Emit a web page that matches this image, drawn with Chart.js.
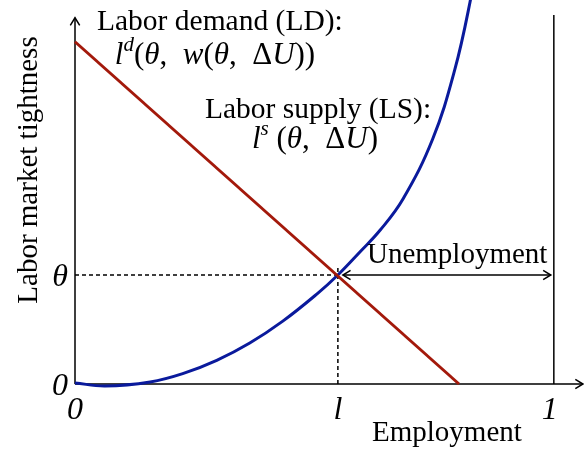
<!DOCTYPE html>
<html lang="en">
<head>
    <meta charset="UTF-8">
    <title>Labor market tightness</title>
    <script src="https://cdn.jsdelivr.net/npm/chart.js"></script>
    <style>
        html, body { margin: 0; padding: 0; background: #fff; }
        canvas { display: block; }
    </style>
</head>
<body>
    <canvas id="chart" width="584" height="452"></canvas>
    <script>
        // axis extents (data units), equilibrium point
        const xMax = 1.063;
        const yMax = 3.523;
        const lStar = 0.549;
        const theta = 1;
        const fullEmployment = 1;

        // labor demand: straight line
        const ldX = [0, 0.802];
        const ldY = [3.14, 0];

        // labor supply: convex curve
        const lsX = [0, 0.063, 0.157, 0.225, 0.296, 0.365, 0.434, 0.505, 0.549, 0.595, 0.637, 0.685, 0.747, 0.793, 0.825, 0.856];
        const lsY = [0.01, -0.018, 0.019, 0.095, 0.217, 0.376, 0.577, 0.825, 1.0, 1.211, 1.41, 1.697, 2.248, 2.881, 3.505, 4.257];

        // tick labels
        const xTicks = [[0, '0'], [lStar, 'l'], [fullEmployment, '1']];
        const yTicks = [[0, '0'], [theta, 'θ']];

        const RED = '#a3190b';
        const BLUE = '#0a1a9c';
        const SERIF = '"Liberation Serif", "DejaVu Serif", serif';

        const toPts = (xs, ys) => xs.map((x, i) => ({ x, y: ys[i] }));

        function arrowHead(ctx, x, y, angle, size) {
            ctx.beginPath();
            ctx.moveTo(x - size * Math.cos(angle - 0.55), y - size * Math.sin(angle - 0.55));
            ctx.lineTo(x, y);
            ctx.lineTo(x - size * Math.cos(angle + 0.55), y - size * Math.sin(angle + 0.55));
            ctx.stroke();
        }

        // parts: [text, italic, size, raise]
        function richText(ctx, parts, x, y, align) {
            const font = (p) => (p[1] ? 'italic ' : '') + p[2] + 'px ' + SERIF;
            let w = 0;
            parts.forEach(p => { ctx.font = font(p); w += ctx.measureText(p[0]).width; });
            let cx = align === 'center' ? x - w / 2 : x;
            ctx.textAlign = 'left';
            ctx.textBaseline = 'alphabetic';
            parts.forEach(p => {
                ctx.font = font(p);
                ctx.fillText(p[0], cx, y - (p[3] || 0));
                cx += ctx.measureText(p[0]).width;
            });
        }

        const annot = {
            id: 'annot',
            beforeDatasetsDraw(chart) {
                const ctx = chart.ctx;
                const xs = chart.scales.x, ys = chart.scales.y;
                const x0 = xs.getPixelForValue(0), y0 = ys.getPixelForValue(0);
                const xl = xs.getPixelForValue(lStar), yt = ys.getPixelForValue(theta);
                const x1 = xs.getPixelForValue(fullEmployment);
                ctx.save();
                ctx.strokeStyle = '#000';
                ctx.lineWidth = 1.5;

                // dashed guides
                ctx.setLineDash([4, 3]);
                ctx.beginPath();
                ctx.moveTo(x0, yt); ctx.lineTo(xl, yt);
                ctx.moveTo(xl, y0); ctx.lineTo(xl, yt - 10);
                ctx.stroke();
                ctx.setLineDash([]);

                // axes with arrows
                const yTop = ys.getPixelForValue(3.36);
                const xEnd = xs.right - 1;
                ctx.beginPath();
                ctx.moveTo(x0, y0); ctx.lineTo(x0, yTop);
                ctx.moveTo(x0, y0); ctx.lineTo(xEnd, y0);
                ctx.stroke();
                arrowHead(ctx, x0, yTop, -Math.PI / 2, 9);
                arrowHead(ctx, xEnd, y0, 0, 9);

                // full employment line
                ctx.beginPath();
                ctx.moveTo(x1, y0); ctx.lineTo(x1, ys.getPixelForValue(3.385));
                ctx.stroke();

                // unemployment double arrow
                const ua = xl + 5, ub = x1 - 3;
                ctx.beginPath();
                ctx.moveTo(ua, yt); ctx.lineTo(ub, yt);
                ctx.stroke();
                arrowHead(ctx, ua, yt, Math.PI, 9);
                arrowHead(ctx, ub, yt, 0, 9);
                ctx.restore();
            },
            afterDatasetsDraw(chart) {
                const ctx = chart.ctx;
                const xs = chart.scales.x, ys = chart.scales.y;
                const x0 = xs.getPixelForValue(0), y0 = ys.getPixelForValue(0);
                ctx.save();
                ctx.fillStyle = '#000';

                // tick labels
                ctx.textAlign = 'center';
                ctx.textBaseline = 'alphabetic';
                ctx.font = 'italic 32px ' + SERIF;
                xTicks.forEach(([v, t]) => {
                    ctx.fillText(t, xs.getPixelForValue(v) - (t === '1' ? 4 : 0), y0 + 35);
                });
                yTicks.forEach(([v, t]) => {
                    ctx.fillText(t, x0 - 15, ys.getPixelForValue(v) + 11);
                });

                // axis titles
                ctx.font = '29px ' + SERIF;
                ctx.textAlign = 'left';
                ctx.fillText('Employment', 372, 441);
                ctx.save();
                ctx.translate(37, 170);
                ctx.rotate(-Math.PI / 2);
                ctx.textAlign = 'center';
                ctx.fillText('Labor market tightness', 0, 0);
                ctx.restore();

                // curve labels
                ctx.font = '29.5px ' + SERIF;
                ctx.textAlign = 'left';
                ctx.fillText('Labor demand (LD):', 97, 30);
                ctx.fillText('Labor supply (LS):', 205, 118);
                ctx.font = '29px ' + SERIF;
                ctx.fillText('Unemployment', 367, 263);

                richText(ctx, [
                    ['l', true, 31], ['d', true, 21, 13], ['(', false, 31], ['θ', true, 31], [',  ', false, 31],
                    ['w', true, 31], ['(', false, 31], ['θ', true, 31], [',  ', false, 31], ['Δ', false, 31],
                    ['U', true, 31], ['))', false, 31]
                ], 215, 64, 'center');
                richText(ctx, [
                    ['l', true, 31], ['s', true, 21, 13], [' (', false, 31], ['θ', true, 31], [',  ', false, 31],
                    ['Δ', false, 31], ['U', true, 31], [')', false, 31]
                ], 315, 148, 'center');
                ctx.restore();
            }
        };

        new Chart(document.getElementById('chart'), {
            type: 'scatter',
            data: {
                datasets: [
                    {
                        label: 'Labor demand (LD)',
                        data: toPts(ldX, ldY),
                        showLine: true,
                        borderColor: RED,
                        borderWidth: 3,
                        pointRadius: 0,
                        clip: { left: 2, top: 0, right: 0, bottom: 4 }
                    },
                    {
                        label: 'Labor supply (LS)',
                        data: toPts(lsX, lsY),
                        showLine: true,
                        borderColor: BLUE,
                        borderWidth: 3,
                        pointRadius: 0,
                        tension: 0.4,
                        clip: { left: 2, top: 0, right: 0, bottom: 6 }
                    }
                ]
            },
            options: {
                responsive: false,
                animation: false,
                layout: { padding: { left: 75, right: 0, top: 0, bottom: 68 } },
                plugins: { legend: { display: false }, tooltip: { enabled: false } },
                scales: {
                    x: { type: 'linear', min: 0, max: xMax, display: false },
                    y: { type: 'linear', min: 0, max: yMax, display: false }
                }
            },
            plugins: [annot]
        });
    </script>
</body>
</html>
